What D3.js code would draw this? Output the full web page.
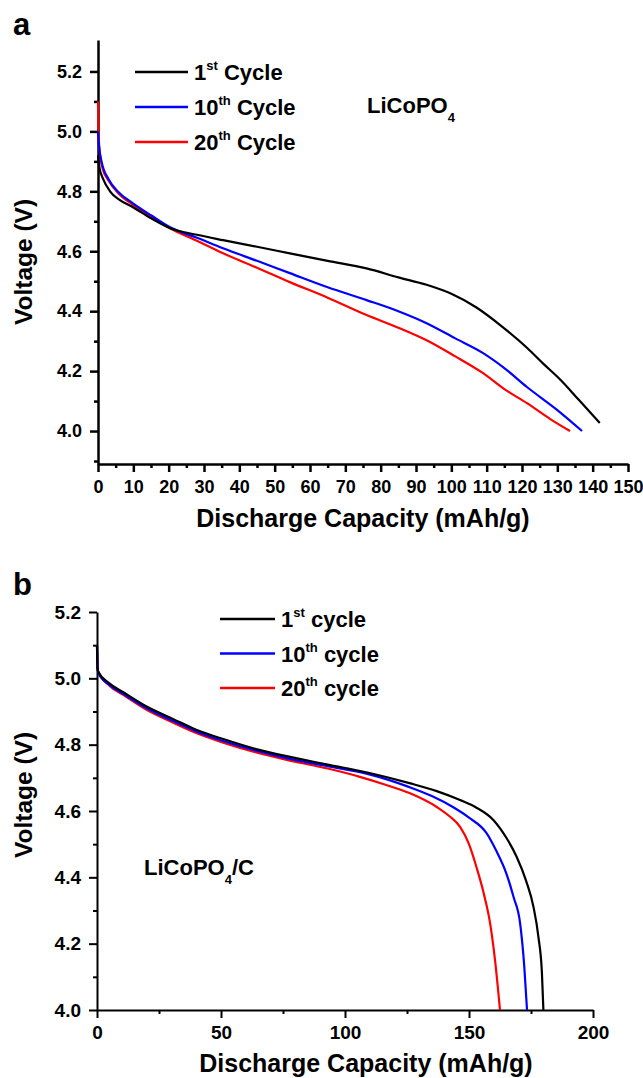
<!DOCTYPE html>
<html>
<head>
<meta charset="utf-8">
<script src="https://cdn.jsdelivr.net/npm/d3@7"></script>
<style>
  body { margin: 0; background: #fff; }
  svg { display: block; font-family: "Liberation Sans", Arial, sans-serif; font-weight: bold; }
  .axis path, .axis line { stroke: #000; }
  .axis text { fill: #000; font-weight: bold; }
</style>
</head>
<body>
<svg id="chart" width="643" height="1078"></svg>
<script>
// DATA (capacity in mAh/g, voltage in V)

const seriesNames = ['1st', '10th', '20th']
const seriesColors = ['#000000', '#0000ff', '#ff0000']

// panel a : LiCoPO4
const a1st = [[0,4.92],[0.4,4.88],[1.5,4.84],[3.4,4.80],[6,4.772],[9.9,4.747],[15,4.71],[20.4,4.677],[28,4.655],[35.4,4.637],[45,4.615],[54.3,4.593],[65,4.568],[76,4.543],[85,4.513],[93,4.488],[100,4.458],[107,4.413],[114,4.352],[121.4,4.278],[126,4.225],[130.8,4.172],[136,4.105],[142,4.027]]
const a10th = [[0,5.0],[0.3,4.95],[1,4.90],[3,4.84],[6,4.795],[9.9,4.76],[15,4.72],[20.4,4.68],[28,4.645],[35.4,4.61],[45,4.568],[54.3,4.527],[65,4.48],[76,4.437],[85,4.40],[93,4.36],[101,4.31],[109,4.26],[115,4.21],[121.4,4.147],[130,4.07],[137,4.0]]
const a20th = [[0,5.1],[0.2,4.98],[0.6,4.92],[1.2,4.88],[3,4.835],[6,4.79],[9.9,4.755],[15,4.715],[20.4,4.677],[28,4.635],[35.4,4.593],[45,4.545],[54.3,4.497],[65,4.445],[76,4.387],[85,4.345],[93,4.303],[101,4.25],[109,4.193],[115,4.14],[121.4,4.093],[128,4.04],[133.6,4.0]]

// panel b : LiCoPO4/C
const b1st = [[0,5.1],[0.2,5.03],[0.5,5.02],[5,4.985],[10.6,4.958],[20,4.915],[30.8,4.877],[40,4.845],[50.9,4.817],[65,4.785],[77.8,4.763],[93,4.74],[109,4.716],[126,4.684],[137,4.66],[146.4,4.633],[153,4.61],[159.8,4.573],[165,4.52],[169.2,4.462],[173,4.39],[176,4.311],[178,4.22],[179.4,4.112],[180,4.0]]
const b10th = [[0,5.1],[0.3,5.03],[0.6,5.015],[5,4.98],[10.6,4.953],[20,4.91],[30.8,4.871],[40,4.84],[50.9,4.811],[65,4.78],[77.8,4.757],[93,4.735],[109,4.712],[126,4.672],[135,4.645],[143.5,4.612],[150,4.58],[157,4.534],[161,4.48],[165,4.413],[168,4.34],[170.6,4.262],[172.3,4.13],[173.4,4.0]]
const b20th = [[0,5.1],[0.2,5.03],[0.5,5.02],[5,4.978],[10.6,4.95],[20,4.905],[30.8,4.866],[40,4.835],[50.9,4.806],[65,4.775],[77.8,4.752],[93,4.728],[106,4.703],[116,4.68],[126,4.654],[137,4.612],[142,4.585],[146.4,4.552],[150,4.5],[153,4.431],[156,4.35],[158.5,4.262],[160.5,4.15],[162.5,4.0]]

// ticks
const aXTicks = d3.range(0, 151, 10)
const aXMinor = d3.range(5, 150, 10)
const aYTicks = [4.0, 4.2, 4.4, 4.6, 4.8, 5.0, 5.2]
const aYMinor = [3.9, 4.1, 4.3, 4.5, 4.7, 4.9, 5.1]
const bXTicks = [0, 50, 100, 150, 200]
const bXMinor = [25, 75, 125, 175]
const bYTicks = [4.0, 4.2, 4.4, 4.6, 4.8, 5.0, 5.2]
const bYMinor = [4.1, 4.3, 4.5, 4.7, 4.9, 5.1]


const svg = d3.select('#chart')

function drawPanel(cfg) {
    const g = svg.append('g')
    const x = d3.scaleLinear().domain(cfg.xDomain).range(cfg.xRange)
    const y = d3.scaleLinear().domain(cfg.yDomain).range(cfg.yRange)

    // minor ticks first, then the main axes on top
    g.append('g').attr('class', 'axis')
        .attr('transform', `translate(0,${cfg.yRange[0]})`)
        .call(d3.axisBottom(x).tickValues(cfg.xMinor).tickSize(4).tickSizeOuter(0).tickFormat(''))
        .call(s => s.select('.domain').remove())
        .selectAll('line').attr('stroke-width', cfg.axisW)
    g.append('g').attr('class', 'axis')
        .attr('transform', `translate(${cfg.xRange[0]},0)`)
        .call(d3.axisLeft(y).tickValues(cfg.yMinor).tickSize(4).tickSizeOuter(0).tickFormat(''))
        .call(s => s.select('.domain').remove())
        .selectAll('line').attr('stroke-width', cfg.axisW)

    const xAxis = g.append('g').attr('class', 'axis')
        .attr('transform', `translate(0,${cfg.yRange[0]})`)
        .call(d3.axisBottom(x).tickValues(cfg.xTicks).tickSize(8).tickPadding(8).tickSizeOuter(0).tickFormat(d3.format('d')))
    xAxis.select('.domain').attr('stroke-width', cfg.axisW)
    xAxis.selectAll('line').attr('stroke-width', cfg.axisW)
    xAxis.selectAll('text').attr('font-size', cfg.tickFont)

    const yAxis = g.append('g').attr('class', 'axis')
        .attr('transform', `translate(${cfg.xRange[0]},0)`)
        .call(d3.axisLeft(y).tickValues(cfg.yTicks).tickSize(8).tickPadding(8).tickSizeOuter(0).tickFormat(d3.format('.1f')))
    yAxis.select('.domain').attr('stroke-width', cfg.axisW)
    yAxis.selectAll('line').attr('stroke-width', cfg.axisW)
    yAxis.selectAll('text').attr('font-size', cfg.tickFont)

    // curves, last cycle drawn first so the 1st cycle sits on top
    const line = d3.line().x(d => x(d[0])).y(d => y(d[1])).curve(d3.curveMonotoneX)
    cfg.series.slice().reverse().forEach((s, i) => {
        const idx = cfg.series.length - 1 - i
        g.append('path')
            .datum(s)
            .attr('fill', 'none')
            .attr('stroke', seriesColors[idx])
            .attr('stroke-width', 2.2)
            .attr('stroke-linejoin', 'round')
            .attr('d', line)
    })

    // legend
    seriesNames.forEach((name, i) => {
        const ly = cfg.legend.y + i * cfg.legend.step
        g.append('line')
            .attr('x1', cfg.legend.x1).attr('x2', cfg.legend.x2)
            .attr('y1', ly).attr('y2', ly)
            .attr('stroke', seriesColors[i]).attr('stroke-width', 2.5)
        const t = g.append('text')
            .attr('x', cfg.legend.x2 + 6).attr('y', ly + 8)
            .attr('font-size', 22)
        t.append('tspan').text(name.replace(/[a-z]+/, ''))
        t.append('tspan').text(name.replace(/[0-9]+/, ''))
            .attr('font-size', 13).attr('dy', -10)
        t.append('tspan').text(' ' + cfg.legend.word).attr('dy', 10)
    })

    // axis titles
    g.append('text')
        .attr('x', cfg.xTitle[0]).attr('y', cfg.xTitle[1])
        .attr('text-anchor', 'middle').attr('font-size', 25)
        .text('Discharge Capacity (mAh/g)')
    g.append('text')
        .attr('transform', `translate(${cfg.yTitle[0]},${cfg.yTitle[1]}) rotate(-90)`)
        .attr('text-anchor', 'middle').attr('font-size', 24.5)
        .text('Voltage (V)')

    // panel letter
    g.append('text')
        .attr('x', 13).attr('y', cfg.letterY)
        .attr('font-size', 31)
        .text(cfg.letter)

    // material label
    const m = g.append('text')
        .attr('x', cfg.label.x).attr('y', cfg.label.y)
        .attr('font-size', 22)
    m.append('tspan').text('LiCoPO')
    m.append('tspan').text('4').attr('font-size', 13).attr('dy', 9)
    if (cfg.label.suffix) m.append('tspan').text(cfg.label.suffix).attr('dy', -9)
}

drawPanel({
    letter: 'a', letterY: 35,
    xDomain: [0, 150], xRange: [98, 628],
    yDomain: [3.89, 5.305], yRange: [464, 40],
    xTicks: aXTicks, xMinor: aXMinor, yTicks: aYTicks, yMinor: aYMinor,
    axisW: 2.5, tickFont: 18,
    series: [a1st, a10th, a20th],
    legend: { x1: 135, x2: 188, y: 72, step: 35, word: 'Cycle' },
    xTitle: [363, 527], yTitle: [32, 262],
    label: { x: 367, y: 113 }
})

drawPanel({
    letter: 'b', letterY: 595,
    xDomain: [0, 200], xRange: [97, 593],
    yDomain: [4.0, 5.2], yRange: [1010, 612],
    xTicks: bXTicks, xMinor: bXMinor, yTicks: bYTicks, yMinor: bYMinor,
    axisW: 2, tickFont: 19,
    series: [b1st, b10th, b20th],
    legend: { x1: 220, x2: 275, y: 619, step: 34.5, word: 'cycle' },
    xTitle: [366, 1072], yTitle: [32, 795],
    label: { x: 144, y: 875, suffix: '/C' }
})
</script>
</body>
</html>
